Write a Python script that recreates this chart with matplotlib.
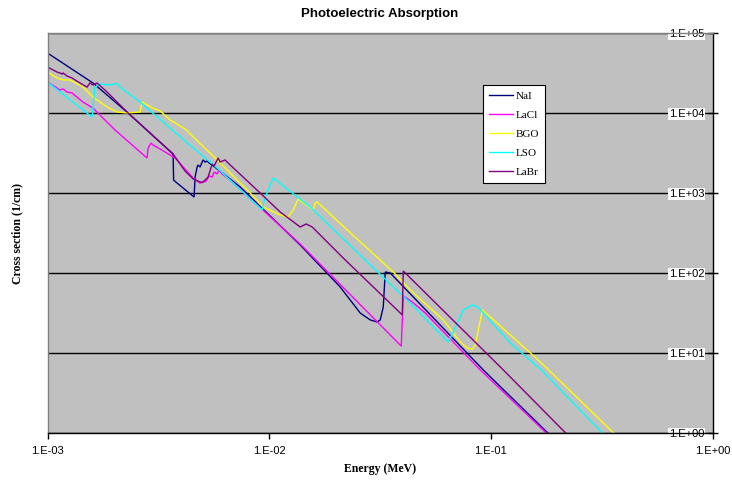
import numpy as np
import matplotlib
matplotlib.use("Agg")
import matplotlib.pyplot as plt
from matplotlib.ticker import FixedLocator, FuncFormatter, NullLocator

plt.rcParams['font.family'] = ['Liberation Sans', 'DejaVu Sans']

# ── data: energy (MeV) vs cross section (1/cm) ─────────────────────────────────
nai_e = [1.0e-3, 1.605e-3, 2.309e-3, 3.687e-3, 3.706e-3, 3.843e-3, 4.585e-3, 4.633e-3,
         4.730e-3, 4.780e-3, 4.880e-3, 4.983e-3, 5.035e-3, 5.141e-3, 5.249e-3, 5.359e-3,
         5.530e-3, 7.397e-3, 1.38e-2, 2.092e-2, 2.575e-2, 2.858e-2, 3.074e-2, 3.17e-2,
         3.271e-2, 3.34e-2, 3.518e-2, 9.25e-2, 0.2285]
nai_mu = [56200, 23700, 10000, 3070, 1450, 1330, 891, 1585,
          2110, 2240, 2110, 2440, 2590, 2440, 2510, 2370,
          2240, 1190, 224, 66.8, 31.6, 25.9, 24.4, 25.9,
          37.6, 103, 100, 6.13, 0.531]

lacl_e = [1.0e-3, 1.139e-3, 1.175e-3, 1.225e-3, 1.29e-3, 1.359e-3, 1.446e-3, 1.605e-3,
          2.017e-3, 2.813e-3, 2.843e-3, 2.934e-3, 2.995e-3, 3.221e-3, 3.764e-3, 4.538e-3,
          4.88e-3, 5.195e-3, 5.359e-3, 5.53e-3, 5.646e-3, 5.825e-3, 5.948e-3, 6.135e-3,
          6.667e-3, 1.38e-2, 3.944e-2, 4.027e-2, 4.421e-2, 5.062e-2, 8.965e-2, 0.2285]
lacl_mu = [24400, 19400, 20000, 18300, 17800, 15800, 13700, 11500,
           6130, 2740, 3650, 4220, 3980, 3550, 2740, 1540,
           1330, 1410, 1630, 1585, 1830, 1730, 1940, 1730,
           1450, 230, 12.2, 51.6, 43.4, 31.6, 6.13, 0.516]

bgo_e = [1.0e-3, 1.104e-3, 1.175e-3, 1.264e-3, 1.446e-3, 1.605e-3, 1.856e-3, 2.06e-3,
         2.285e-3, 2.616e-3, 2.671e-3, 2.995e-3, 3.221e-3, 3.573e-3, 3.764e-3, 4.176e-3,
         5.825e-3, 8.208e-3, 9.395e-3, 1.121e-2, 1.218e-2, 1.284e-2, 1.352e-2, 1.58e-2,
         1.613e-2, 1.647e-2, 2.249e-2, 3.63e-2, 4.33e-2, 6.104e-2, 7.284e-2, 7.833e-2,
         8.251e-2, 8.511e-2, 8.78e-2, 9.155e-2, 0.1225, 0.1673, 0.4731]
bgo_mu = [32500, 27400, 25900, 25900, 21100, 15800, 11900, 10300,
          10000, 10300, 13700, 11500, 10600, 8180, 7500, 6310,
          2590, 1000, 668, 531, 501, 613, 841, 613,
          750, 772, 345, 103, 61.3, 25.9, 13.7, 11.5,
          11.2, 12.6, 19.4, 34.5, 16.8, 7.72, 0.473]

lso_e = [1.0e-3, 1.588e-3, 1.605e-3, 1.638e-3, 1.726e-3, 1.915e-3, 2.017e-3, 2.06e-3,
         2.125e-3, 2.616e-3, 4.176e-3, 5.825e-3, 9.298e-3, 9.592e-3, 1.043e-2, 1.531e-2,
         2.713e-2, 4.33e-2, 6.429e-2, 7.061e-2, 7.513e-2, 8.251e-2, 8.691e-2, 9.155e-2,
         0.1225, 0.1673, 0.4264]
lso_mu = [24400, 8910, 11900, 21100, 23000, 22400, 23000, 23700,
          21100, 13700, 4470, 2050, 613, 891, 1540, 668,
          145, 42.2, 13.7, 23.7, 34.5, 39.8, 37.6, 32.5,
          13.3, 6.31, 0.434]

labr_e = [1.0e-3, 1.104e-3, 1.139e-3, 1.163e-3, 1.175e-3, 1.225e-3, 1.29e-3, 1.331e-3,
          1.402e-3, 1.508e-3, 1.555e-3, 1.605e-3, 1.673e-3, 1.856e-3, 2.309e-3, 3.687e-3,
          4.176e-3, 4.538e-3, 4.88e-3, 5.035e-3, 5.303e-3, 5.53e-3, 5.646e-3, 5.886e-3,
          6.009e-3, 6.329e-3, 6.53e-3, 9.108e-3, 1.121e-2, 1.38e-2, 1.469e-2, 1.564e-2,
          2.158e-2, 3.986e-2, 4.027e-2, 0.1139, 0.2813]
labr_mu = [37600, 32500, 31600, 30700, 31600, 29000, 27400, 25900,
           23700, 21100, 23700, 22400, 23700, 18300, 10000, 3070,
           1880, 1500, 1370, 1370, 1585, 2300, 2180, 2740,
           2440, 2590, 2370, 1000, 579, 376, 410, 376,
           154, 29.9, 106, 6.13, 0.487]

series = [
    ("NaI",  nai_e,  nai_mu,  "#000080"),
    ("LaCl", lacl_e, lacl_mu, "#FF00FF"),
    ("BGO",  bgo_e,  bgo_mu,  "#FFFF00"),
    ("LSO",  lso_e,  lso_mu,  "#00FFFF"),
    ("LaBr", labr_e, labr_mu, "#800080"),
]

decades_x = [1e-3, 1e-2, 1e-1, 1e0]
decades_y = [1e0, 1e1, 1e2, 1e3, 1e4, 1e5]

W, H = 732, 482
fig = plt.figure(figsize=(W / 100, H / 100), dpi=100)
ax = fig.add_axes([47.5 / W, 1 - 433 / H, (712.5 - 47.5) / W, 400 / H])
ax.set_facecolor("#C0C0C0")

for name, e, mu, col in series:
    ax.plot(e, mu, color=col, lw=1.0, label=name, solid_joinstyle='miter')

ax.set_xscale("log")
ax.set_yscale("log")
ax.set_xlim(1e-3, 1)
ax.set_ylim(1, 1e5)

sci = FuncFormatter(lambda v, _: f"1.E{int(round(np.log10(v))):+03d}")
ax.xaxis.set_major_locator(FixedLocator(decades_x))
ax.yaxis.set_major_locator(FixedLocator(decades_y))
ax.xaxis.set_minor_locator(NullLocator())
ax.yaxis.set_minor_locator(NullLocator())
ax.xaxis.set_major_formatter(sci)
ax.yaxis.set_major_formatter(sci)

ax.set_axisbelow(True)
ax.yaxis.grid(True, color="black", lw=1.0)

for side, col in [("left", "#808080"), ("top", "#808080"),
                  ("right", "black"), ("bottom", "black")]:
    ax.spines[side].set_color(col)
    ax.spines[side].set_linewidth(1.0)
    ax.spines[side].set_zorder(3)

ax.tick_params(axis="x", direction="out", length=4, width=1, labelsize=8, pad=5.5)
ax.yaxis.set_ticks_position("right")
ax.tick_params(axis="y", direction="inout", length=7, width=1, labelsize=8,
               pad=-9.5, right=True, left=False, labelright=True, labelleft=False)
plt.setp(ax.get_yticklabels(), ha="right",
         bbox=dict(facecolor="white", edgecolor="none", pad=0.6))

leg = ax.legend(loc="upper left", bbox_to_anchor=(0.655, 0.87), frameon=True,
                fancybox=False, edgecolor="black", framealpha=1,
                prop={"family": "Liberation Serif", "size": 8},
                handlelength=2.1, handletextpad=0.3, labelspacing=0.84,
                borderpad=0.55, borderaxespad=0)
leg.get_frame().set_linewidth(0.8)

fig.text(380 / W, 1 - 14 / H, "Photoelectric Absorption", ha="center", va="center",
         fontsize=9.5, fontweight="bold")
fig.text(17 / W, 1 - 233 / H, "Cross section (1/cm)", rotation=90, ha="center",
         va="center", family="Liberation Serif", fontweight="bold", fontsize=8.5)
fig.text(380 / W, 1 - 469 / H, "Energy (MeV)", ha="center", va="center",
         family="Liberation Serif", fontweight="bold", fontsize=8.5)

fig.savefig("out.png", dpi=100)
